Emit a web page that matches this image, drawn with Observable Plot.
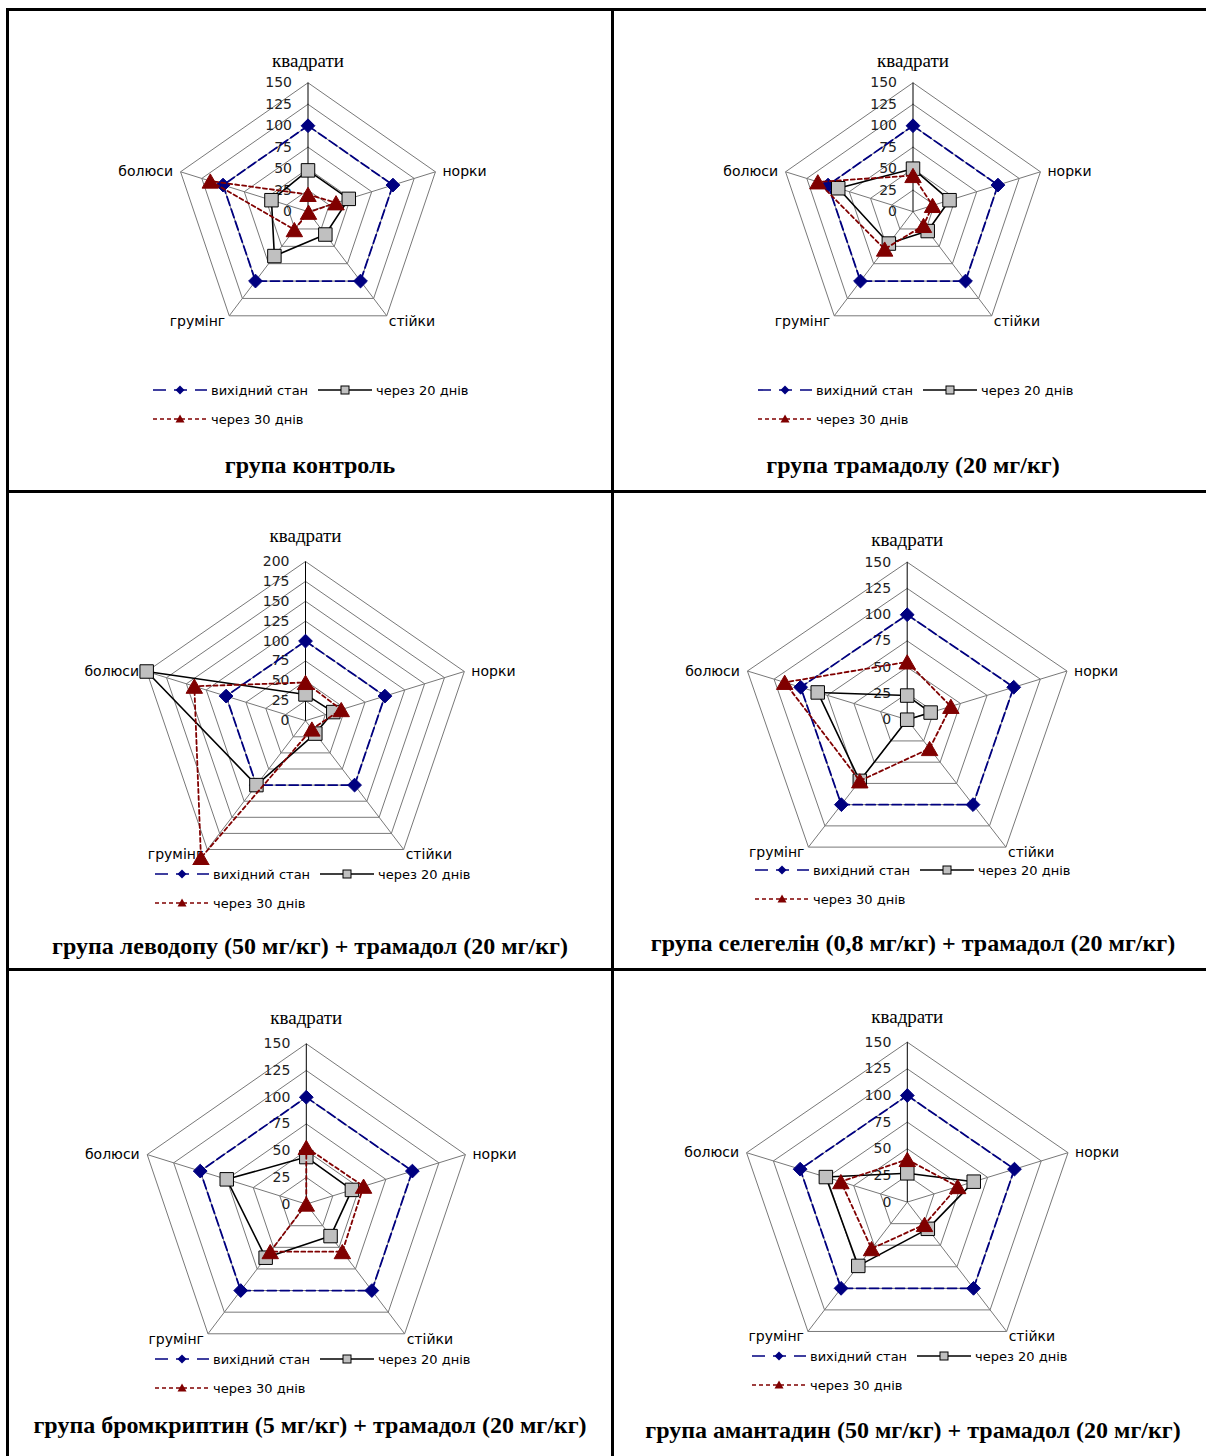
<!DOCTYPE html>
<html><head><meta charset="utf-8">
<script src="https://cdn.jsdelivr.net/npm/d3@7"></script>
<script src="https://cdn.jsdelivr.net/npm/@observablehq/plot@0.6"></script>
<style>
body{margin:0;background:#fff;}
#page{position:relative;width:1206px;height:1456px;overflow:hidden;background:#fff;}
.rule{position:absolute;background:#000;z-index:5;}
.panel{position:absolute;}
.panel svg{display:block;}
.title{position:absolute;font-family:"Liberation Serif",serif;font-weight:bold;font-size:24px;white-space:nowrap;transform:translate(-50%,-50%);color:#000;}
.leg{position:absolute;font-family:"DejaVu Sans",sans-serif;font-size:13px;color:#000;white-space:nowrap;}
.leg svg{position:absolute;}
.leg span{position:absolute;transform:translateY(-50%);}
</style></head><body><div id="page"></div><script>
// ---------- data ----------
const categories = ["квадрати", "норки", "стійки", "грумінг", "болюси"];
const seriesNames = ["вихідний стан", "через 20 днів", "через 30 днів"];
const groupTitles = [
  "група контроль",
  "група трамадолу (20 мг/кг)",
  "група леводопу (50 мг/кг) + трамадол (20 мг/кг)",
  "група селегелін (0,8 мг/кг) + трамадол (20 мг/кг)",
  "група бромкриптин (5 мг/кг) + трамадол (20 мг/кг)",
  "група амантадин (50 мг/кг) + трамадол (20 мг/кг)"
];
const initialValues = [
  [100, 100, 100, 100, 100],
  [100, 100, 100, 100, 100],
  [100, 100, 100, 100, 100],
  [100, 100, 100, 100, 100],
  [100, 100, 100, 100, 100],
  [100, 100, 100, 100, 100]
];
const day20Values = [
  [48, 48, 33, 64, 43],
  [50, 43, 28, 46, 88],
  [33, 35, 20, 100, 200],
  [23, 22, 0, 72, 84],
  [44, 43, 37, 62, 75],
  [27, 62, 31, 74, 76]
];
const day30Values = [
  [20, 33, 1, 26, 115],
  [42, 23, 20, 54, 112],
  [48, 45, 13, 213, 140],
  [55, 41, 34, 72, 115],
  [53, 54, 55, 55, 0],
  [40, 47, 26, 54, 62]
];
const axisMax = [150, 150, 200, 150, 150, 150];
const tickStep = 25;

// ---------- layout ----------
const layout = [
  {cx:307.5, cy:211.1, rx:134, ry:128.8, left:20, top:30, w:585, h:320, titleX:310, titleY:465, legX:153, legY:390, labelDy:22},
  {cx:912.5, cy:211.1, rx:134, ry:128.8, left:625, top:30, w:575, h:320, titleX:913, titleY:465, legX:758, legY:390, labelDy:22},
  {cx:305, cy:720.2, rx:167, ry:159.2, left:20, top:505, w:585, h:360, titleX:310, titleY:946, legX:155, legY:874, labelDy:26},
  {cx:906.7, cy:719.2, rx:168, ry:157.5, left:625, top:505, w:575, h:357, titleX:913, titleY:943, legX:755, legY:870, labelDy:22},
  {cx:305.8, cy:1203.6, rx:167.3, ry:160.3, left:20, top:985, w:585, h:363, titleX:310, titleY:1425, legX:155, legY:1359, labelDy:26},
  {cx:906.8, cy:1201.6, rx:169, ry:159.9, left:625, top:985, w:575, h:362, titleX:913, titleY:1430, legX:752, legY:1356, labelDy:25}
];
const BLUE = "#000080", RED = "#800000", GRAY = "#c0c0c0", GRID = "#787878";
const sans = "DejaVu Sans";

const page = document.getElementById("page");
const n = categories.length;
const ang = j => 2 * Math.PI * j / n;
const px = (v, j) => v * Math.sin(ang(j));
const py = (v, j) => v * Math.cos(ang(j));

function radar(i) {
  const L = layout[i], max = axisMax[i];
  const levels = d3.range(tickStep, max + 1, tickStep);
  const ringPts = levels.flatMap(l => d3.range(n + 1).map(k => ({level: l, x: px(l, k % n), y: py(l, k % n)})));
  const spokes = categories.map((c, j) => ({j, x: px(max, j), y: py(max, j)}));
  const series = [initialValues[i], day20Values[i], day30Values[i]].map(vals =>
    d3.range(n + 1).map(k => ({x: px(vals[k % n], k % n), y: py(vals[k % n], k % n)})));
  const pts = s => series[s].slice(0, n);
  const labelOpts = [
    {textAnchor: "middle", dy: -L.labelDy, fontFamily: "Liberation Serif", fontSize: 19},
    {textAnchor: "start", dx: 7, fontFamily: sans, fontSize: 14},
    {textAnchor: "start", dx: 2, lineAnchor: "top", dy: 0, fontFamily: sans, fontSize: 14},
    {textAnchor: "end", dx: -4, lineAnchor: "top", dy: 0, fontFamily: sans, fontSize: 14},
    {textAnchor: "end", dx: -7.5, fontFamily: sans, fontSize: 14}
  ];
  const marks = [
    Plot.line(ringPts, {x: "x", y: "y", z: "level", stroke: GRID, strokeWidth: 1}),
    Plot.link(spokes.filter(d => d.j > 0), {x1: d => 0, y1: d => 0, x2: "x", y2: "y", stroke: GRID, strokeWidth: 1}),
    Plot.link(spokes.filter(d => d.j === 0), {x1: d => 0, y1: d => 0, x2: "x", y2: "y", stroke: "#000", strokeWidth: 1}),
    Plot.text(d3.range(0, max + 1, tickStep), {x: d => 0, y: d => d, text: d => String(d), textAnchor: "end", dx: -16, fontFamily: sans, fontSize: 14, fill: "#222"}),
    ...categories.map((c, j) => Plot.text([spokes[j]], {x: "x", y: "y", text: d => categories[d.j], fill: "#000", ...labelOpts[j]})),
    Plot.line(series[0], {x: "x", y: "y", stroke: BLUE, strokeWidth: 1.8, strokeDasharray: "9,4"}),
    Plot.dot(pts(0), {x: "x", y: "y", symbol: "diamond2", r: 6.2, fill: BLUE, stroke: BLUE, strokeWidth: 1}),
    Plot.line(series[1], {x: "x", y: "y", stroke: "#000", strokeWidth: 1.6}),
    Plot.dot(pts(1), {x: "x", y: "y", symbol: "square", r: 7.6, fill: GRAY, stroke: "#000", strokeWidth: 1}),
    Plot.line(series[2], {x: "x", y: "y", stroke: RED, strokeWidth: 1.8, strokeDasharray: "4,3"}),
    Plot.dot(pts(2), {x: "x", y: "y", symbol: "triangle", r: 6.1, dy: 2.3, fill: RED, stroke: RED, strokeWidth: 1})
  ];
  const svg = Plot.plot({
    width: L.w, height: L.h, margin: 0,
    style: {background: "transparent", fontFamily: sans},
    x: {domain: [-max, max], range: [L.cx - L.rx - L.left, L.cx + L.rx - L.left], axis: null},
    y: {domain: [-max, max], range: [L.cy + L.ry - L.top, L.cy - L.ry - L.top], axis: null},
    marks
  });
  const div = document.createElement("div");
  div.className = "panel";
  div.style.left = L.left + "px"; div.style.top = L.top + "px";
  div.style.width = L.w + "px"; div.style.height = L.h + "px";
  div.appendChild(svg);
  page.appendChild(div);

  // legend
  const sym = {
    0: `<line x1="0" y1="7" x2="54" y2="7" stroke="${BLUE}" stroke-width="1.6" stroke-dasharray="13,8"/><path d="M27,2.5 L31.5,7 L27,11.5 L22.5,7Z" fill="${BLUE}"/>`,
    1: `<line x1="0" y1="7" x2="54" y2="7" stroke="#000" stroke-width="1.5"/><rect x="23" y="3" width="8" height="8" fill="${GRAY}" stroke="#000" stroke-width="1"/>`,
    2: `<line x1="0" y1="7" x2="54" y2="7" stroke="${RED}" stroke-width="1.5" stroke-dasharray="4,3"/><path d="M27,2.5 L31.5,10.5 L22.5,10.5Z" fill="${RED}"/>`
  };
  const items = [
    {s: 0, x: 0, y: 0}, {s: 1, x: 165, y: 0}, {s: 2, x: 0, y: 28.5}
  ];
  items.forEach(it => {
    const g = document.createElement("div");
    g.className = "leg";
    g.style.left = (L.legX + it.x) + "px"; g.style.top = (L.legY + it.y) + "px";
    g.innerHTML = `<svg width="54" height="14" style="left:0;top:-7px">${sym[it.s]}</svg><span style="left:58px;top:0">${seriesNames[it.s]}</span>`;
    page.appendChild(g);
  });

  const t = document.createElement("div");
  t.className = "title";
  t.style.left = L.titleX + "px"; t.style.top = L.titleY + "px";
  t.textContent = groupTitles[i];
  page.appendChild(t);
}
for (let i = 0; i < 6; i++) radar(i);

// table rules
[[6, 8, 1200, 3], [6, 490, 1200, 3], [6, 968, 1200, 3], [6, 8, 3, 1448], [611, 8, 3, 1448]].forEach(([x, y, w, h]) => {
  const r = document.createElement("div");
  r.className = "rule";
  Object.assign(r.style, {left: x + "px", top: y + "px", width: w + "px", height: h + "px"});
  page.appendChild(r);
});
</script></body></html>
